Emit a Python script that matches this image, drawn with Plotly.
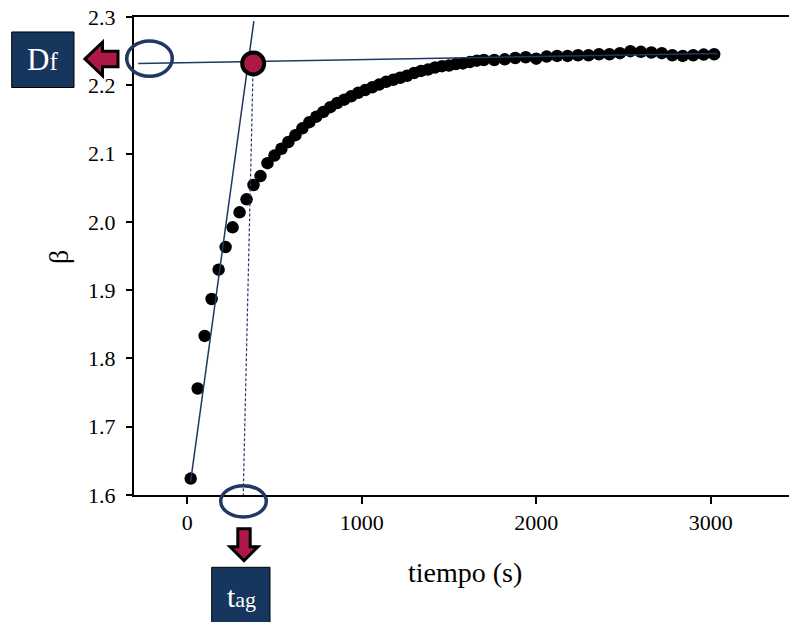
import plotly.graph_objects as go

# ---- data ----
time_s = [20, 60, 100, 140, 180, 220, 260, 300, 340, 380, 420, 460, 500,
          540, 580, 620, 660, 700, 740, 780, 820, 860, 900, 940, 980, 1020,
          1060, 1100, 1140, 1180, 1220, 1260, 1300, 1340, 1380, 1420, 1460,
          1500, 1540, 1580, 1620, 1660, 1700,
          1760, 1820, 1880, 1940, 2000, 2060, 2120, 2180, 2240, 2300, 2360,
          2420, 2480, 2540, 2600, 2660, 2720, 2780, 2840, 2900, 2960, 3020]
beta = [1.624, 1.756, 1.833, 1.887, 1.930, 1.963, 1.992, 2.014, 2.033, 2.054, 2.067, 2.086, 2.097,
        2.107, 2.117, 2.127, 2.137, 2.146, 2.154, 2.161, 2.168, 2.174, 2.179, 2.184, 2.189, 2.193,
        2.197, 2.201, 2.205, 2.208, 2.211, 2.214, 2.218, 2.221, 2.223, 2.226, 2.228,
        2.229, 2.231, 2.232, 2.234, 2.236, 2.237,
        2.237, 2.238, 2.240, 2.241, 2.239, 2.242, 2.243, 2.243, 2.244, 2.244, 2.2455,
        2.2455, 2.247, 2.250, 2.249, 2.248, 2.247, 2.244, 2.243, 2.244, 2.245, 2.2455]

tangent_t = [19, 382]
tangent_b = [1.619, 2.294]
plateau_t = [-281, 3036]
plateau_b = [2.232, 2.2465]
drop_t = [378, 321]
drop_b = [2.232, 1.6]
df_point_t = [378]
df_point_b = [2.232]

x_ticks = [0, 1000, 2000, 3000]
y_ticks = [1.6, 1.7, 1.8, 1.9, 2.0, 2.1, 2.2, 2.3]

NAVY = "#1F3864"
CRIMSON = "#AE1846"
BOX = "#17365D"
FONT = "'Liberation Serif', 'Times New Roman', serif"

W, H = 789, 622
L, R, T, B = 134, 789, 16.7, 495.3
PW, PH = R - L, B - T


def px(x):
    return (x - L) / PW


def py(y):
    return (B - y) / PH


def path(points):
    s = "M " + " L ".join(f"{px(a):.5f},{py(b):.5f}" for a, b in points) + " Z"
    return s


fig = go.Figure()
fig.add_trace(go.Scatter(x=time_s, y=beta, mode="markers",
                         marker=dict(color="black", size=12.5), hoverinfo="skip"))
fig.add_trace(go.Scatter(x=tangent_t, y=tangent_b, mode="lines",
                         line=dict(color=NAVY, width=1.5)))
fig.add_trace(go.Scatter(x=plateau_t, y=plateau_b, mode="lines",
                         line=dict(color=NAVY, width=1.5)))
fig.add_trace(go.Scatter(x=drop_t, y=drop_b, mode="lines",
                         line=dict(color=NAVY, width=1.2, dash="3px,2px")))
fig.add_trace(go.Scatter(x=df_point_t, y=df_point_b, mode="markers",
                         marker=dict(color=CRIMSON, size=22, line=dict(color="black", width=4))))

shapes = [
    dict(type="circle", xref="paper", yref="paper", x0=px(126.7), x1=px(172.3),
         y0=py(76), y1=py(40.7), line=dict(color=NAVY, width=3.5)),
    dict(type="circle", xref="paper", yref="paper", x0=px(220.7), x1=px(266.3),
         y0=py(517.3), y1=py(486), line=dict(color=NAVY, width=3.5)),
    dict(type="rect", xref="paper", yref="paper", x0=px(11.7), x1=px(74),
         y0=py(87.3), y1=py(31.7), fillcolor=BOX, line=dict(color="black", width=1)),
    dict(type="rect", xref="paper", yref="paper", x0=px(211.7), x1=px(270),
         y0=py(630), y1=py(567.7), fillcolor=BOX, line=dict(color="black", width=1)),
    dict(type="path", xref="paper", yref="paper",
         path=path([(85, 58.7), (102.5, 42), (102.5, 51), (118, 51), (118, 66.5),
                    (102.5, 66.5), (102.5, 75.5)]),
         fillcolor=CRIMSON, line=dict(color="black", width=3)),
    dict(type="path", xref="paper", yref="paper",
         path=path([(244, 561), (230, 547), (237.8, 547), (237.8, 529), (250.2, 529),
                    (250.2, 547), (258, 547)]),
         fillcolor=CRIMSON, line=dict(color="black", width=3)),
]

annotations = [
    dict(text="tiempo (s)", xref="paper", yref="paper", x=px(465), y=py(573),
         showarrow=False, font=dict(family=FONT, size=28, color="black"),
         xanchor="center", yanchor="middle"),
    dict(text="β", xref="paper", yref="paper", x=px(59), y=py(257), textangle=-90,
         showarrow=False, font=dict(family=FONT, size=28, color="black"),
         xanchor="center", yanchor="middle"),
    dict(text="D<span style='font-size:25px'>f</span>", xref="paper", yref="paper",
         x=px(42), y=py(59), showarrow=False,
         font=dict(family=FONT, size=31, color="white"), xanchor="center", yanchor="middle"),
    dict(text="t<span style='font-size:22px'>ag</span>", xref="paper", yref="paper",
         x=px(241), y=py(597), showarrow=False,
         font=dict(family=FONT, size=30, color="white"), xanchor="center", yanchor="middle"),
]

fig.update_layout(
    width=W, height=H,
    margin=dict(l=L, r=W - R, t=T, b=H - B, pad=0),
    paper_bgcolor="white", plot_bgcolor="white",
    showlegend=False,
    shapes=shapes, annotations=annotations,
    font=dict(family=FONT, color="black"),
    xaxis=dict(range=[-305, 3449], tickvals=x_ticks, ticks="outside", ticklen=7,
               tickwidth=1.5, tickcolor="black", showline=True, linecolor="black",
               linewidth=2, mirror=True, showgrid=False, zeroline=False,
               tickfont=dict(family=FONT, size=22, color="black"), ticklabelstandoff=0),
    yaxis=dict(range=[1.6, 2.3], tickvals=y_ticks, tickformat=".1f", ticks="outside",
               ticklen=6, tickwidth=1.5, tickcolor="black", showline=True,
               linecolor="black", linewidth=2, showgrid=False, zeroline=False,
               tickfont=dict(family=FONT, size=22, color="black"), ticklabelstandoff=6),
)

fig.write_html("out.html")
